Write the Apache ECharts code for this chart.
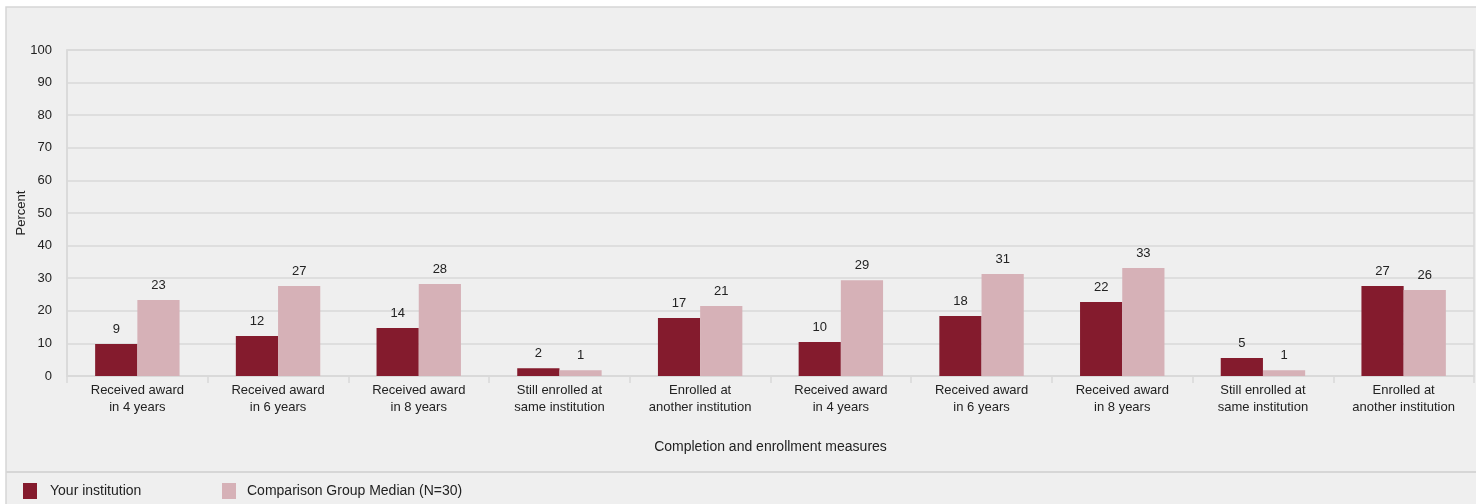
<!DOCTYPE html>
<html><head><meta charset="utf-8">
<script src="https://cdn.jsdelivr.net/npm/echarts@6/dist/echarts.min.js"></script>
<style>html,body{margin:0;padding:0;background:#fff;}#c{width:1476px;height:504px;}</style>
</head><body><div id="c"></div>
<script>
const categories = [
  "Received award\nin 4 years", "Received award\nin 6 years", "Received award\nin 8 years",
  "Still enrolled at\nsame institution", "Enrolled at\nanother institution",
  "Received award\nin 4 years", "Received award\nin 6 years", "Received award\nin 8 years",
  "Still enrolled at\nsame institution", "Enrolled at\nanother institution"
];
const yourInstitution = [9.8, 12.3, 14.7, 2.4, 17.8, 10.4, 18.4, 22.7, 5.5, 27.6];
const comparisonMedian = [23.3, 27.6, 28.2, 1.8, 21.5, 29.4, 31.3, 33.1, 1.8, 26.4];
const seriesNames = ["Your institution", "Comparison Group Median (N=30)"];
const yTicks = [0, 100, 10];
const yAxisTitle = "Percent";

const font = "Liberation Sans, Arial, sans-serif";
const gridColor = "#d9d9d9";
const chart = echarts.init(document.getElementById('c'), null, {renderer: 'canvas'});
const labelCfg = {
  show: true, position: 'top', distance: 8, color: '#222', fontSize: 13, fontFamily: font,
  formatter: p => String(Math.floor(p.value))
};
chart.setOption({
  animation: false,
  backgroundColor: '#fff',
  graphic: [
    {type: 'rect', z: -10, shape: {x: 6, y: 7, width: 1480, height: 510},
     style: {fill: '#efefef', stroke: '#d6d6d6', lineWidth: 1.5}},
    {type: 'line', z: -5, shape: {x1: 6, y1: 472, x2: 1476, y2: 472},
     style: {stroke: '#d6d6d6', lineWidth: 2}},
    {type: 'text', x: 21, y: 213, rotation: Math.PI / 2,
     style: {text: yAxisTitle, fontSize: 13, fontFamily: font, fill: '#222', align: 'center', verticalAlign: 'middle'}}
  ],
  grid: {left: 67, right: 2, top: 50, bottom: 128, outerBoundsMode: 'none', containLabel: false,
         show: true, borderColor: gridColor, borderWidth: 1.5, backgroundColor: 'transparent'},
  legend: [
    {data: [seriesNames[0]], left: 23, top: 483, padding: 0, itemWidth: 14, itemHeight: 16, icon: 'rect',
     textStyle: {fontSize: 14, fontFamily: font, color: '#222', padding: [0, 0, 0, 8]}},
    {data: [seriesNames[1]], left: 222, top: 483, padding: 0, itemWidth: 14, itemHeight: 16, icon: 'rect',
     textStyle: {fontSize: 14, fontFamily: font, color: '#222', padding: [0, 0, 0, 6]}}
  ],
  xAxis: {
    type: 'category', data: categories,
    name: 'Completion and enrollment measures', nameLocation: 'middle', nameGap: 64,
    nameTextStyle: {fontSize: 14, fontFamily: font, color: '#222'},
    axisLine: {show: true, lineStyle: {color: gridColor, width: 1.5}},
    axisTick: {show: true, length: 7, lineStyle: {color: gridColor, width: 1.5}},
    axisLabel: {fontSize: 13, fontFamily: font, color: '#222', margin: 6, lineHeight: 17, interval: 0}
  },
  yAxis: {
    type: 'value', min: yTicks[0], max: yTicks[1], interval: yTicks[2],
    axisLine: {show: true, lineStyle: {color: gridColor, width: 1.5}},
    axisTick: {show: false},
    axisLabel: {fontSize: 13, fontFamily: font, color: '#222', margin: 15},
    splitLine: {show: true, lineStyle: {color: gridColor, width: 1.5}}
  },
  series: [
    {name: seriesNames[0], type: 'bar', data: yourInstitution, barGap: '0%', barCategoryGap: '40%',
     itemStyle: {color: '#841b2d'}, label: labelCfg},
    {name: seriesNames[1], type: 'bar', data: comparisonMedian, barGap: '0%', barCategoryGap: '40%',
     itemStyle: {color: '#d6b1b7'}, label: labelCfg}
  ]
});
</script></body></html>
